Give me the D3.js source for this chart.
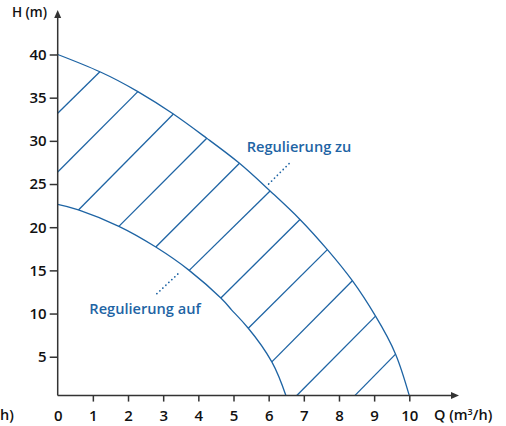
<!DOCTYPE html>
<html>
<head>
<meta charset="utf-8">
<script src="https://cdn.jsdelivr.net/npm/d3@7"></script>
<style>
  body { margin: 0; background: #fff; }
  text { font-family: "Open Sans", sans-serif; }
</style>
</head>
<body>
<div id="chart"></div>
<script>
// values
var xTicks = [0, 1, 2, 3, 4, 5, 6, 7, 8, 9, 10];
var yTicks = [5, 10, 15, 20, 25, 30, 35, 40];

// outer curve (Regulierung zu)
var outerQ = [0, 1.20, 2.28, 3.29, 4.24, 5.17, 6.04, 6.89, 7.67, 8.38, 9.04, 9.61, 10];
var outerH = [40, 38.0, 35.7, 33.1, 30.3, 27.4, 24.2, 20.9, 17.4, 13.8, 9.7, 5.3, 0.5];

// inner curve (Regulierung auf)
var innerQ = [0, 0.59, 1.74, 2.79, 3.74, 4.64, 4.95, 5.42, 6.09, 6.49];
var innerH = [22.65, 22.0, 20.1, 17.7, 15.0, 11.8, 10.4, 8.3, 4.4, 0.5];

// hatch lines between the two curves
var hatchFromQ = [0, 0, 0.59, 1.74, 2.79, 3.74, 4.64, 5.42, 6.09, 6.80, 8.45];
var hatchFromH = [33.2, 26.4, 22.0, 20.1, 17.7, 15.0, 11.8, 8.3, 4.4, 0.5, 0.5];
var hatchToQ   = [1.20, 2.28, 3.29, 4.24, 5.17, 6.04, 6.89, 7.67, 8.38, 9.04, 9.61];
var hatchToH   = [38.0, 35.7, 33.1, 30.3, 27.4, 24.2, 20.9, 17.4, 13.8, 9.7, 5.3];

var axisH = 0.5;   // the Q axis sits a little above H = 0

var blue = "#1e64a4",
    ink = "#333333";

var width = 506, height = 426;

var svg = d3.select("#chart")
  .append("svg")
    .attr("width", width)
    .attr("height", height);

var x = d3.scaleLinear().domain([0, 10]).range([57.7, 409.3]);
var y = d3.scaleLinear().domain([0, 40]).range([399.9, 54.5]);

var line = d3.line()
  .x(function(d) { return x(d[0]); })
  .y(function(d) { return y(d[1]); })
  .curve(d3.curveNatural);

// curves
svg.append("path")
  .datum(d3.zip(outerQ, outerH))
  .attr("fill", "none")
  .attr("stroke", blue)
  .attr("stroke-width", 1.3)
  .attr("d", line);

svg.append("path")
  .datum(d3.zip(innerQ, innerH))
  .attr("fill", "none")
  .attr("stroke", blue)
  .attr("stroke-width", 1.3)
  .attr("d", line);

// hatching
svg.append("g")
  .selectAll("line")
  .data(d3.range(hatchFromQ.length))
  .join("line")
    .attr("x1", function(i) { return x(hatchFromQ[i]); })
    .attr("y1", function(i) { return y(hatchFromH[i]); })
    .attr("x2", function(i) { return x(hatchToQ[i]); })
    .attr("y2", function(i) { return y(hatchToH[i]); })
    .attr("stroke", blue)
    .attr("stroke-width", 1.3);

// dotted leaders
var leaders = [
  [[6.0, 25.0], [6.64, 27.6]],
  [[2.82, 12.3], [3.5, 14.9]]
];
svg.append("g")
  .selectAll("path")
  .data(leaders)
  .join("path")
    .attr("d", d3.line().x(function(d) { return x(d[0]); }).y(function(d) { return y(d[1]); }))
    .attr("stroke", blue)
    .attr("stroke-width", 1.7)
    .attr("stroke-linecap", "round")
    .attr("stroke-dasharray", "0.1,4");

svg.append("text")
  .attr("x", x(5.375))
  .attr("y", y(28.74))
  .attr("fill", blue)
  .attr("font-size", 14.6)
  .attr("font-weight", 600)
  .text("Regulierung zu");

svg.append("text")
  .attr("x", x(0.9))
  .attr("y", y(9.95))
  .attr("fill", blue)
  .attr("font-size", 14.6)
  .attr("font-weight", 600)
  .text("Regulierung auf");

// Y axis
var yAxis = svg.append("g")
  .attr("transform", "translate(" + x(0) + ",0)")
  .call(d3.axisLeft(y).tickValues(yTicks).tickSize(8).tickPadding(3));
yAxis.select(".domain").remove();
yAxis.selectAll(".tick line").attr("stroke", ink).attr("stroke-width", 1.5);
yAxis.selectAll(".tick text")
  .attr("fill", "#111")
  .attr("font-size", 15)
  .attr("font-weight", 600)
  .style("font-family", "'Open Sans', sans-serif");

// X axis
var xAxis = svg.append("g")
  .attr("transform", "translate(0," + y(axisH) + ")")
  .call(d3.axisBottom(x).tickValues(xTicks).tickSize(6).tickPadding(9));
xAxis.select(".domain").remove();
xAxis.selectAll(".tick line").attr("stroke", ink).attr("stroke-width", 1.5)
  .filter(function(d) { return d === 0; }).remove();
xAxis.selectAll(".tick text")
  .attr("fill", "#111")
  .attr("font-size", 15)
  .attr("font-weight", 600)
  .style("font-family", "'Open Sans', sans-serif");

// axis lines with arrows
svg.append("line")
  .attr("x1", x(0)).attr("y1", y(axisH))
  .attr("x2", x(0)).attr("y2", 16)
  .attr("stroke", ink).attr("stroke-width", 1.5);
svg.append("path")
  .attr("d", "M" + x(0) + ",10 l-3.5,8 h7 z")
  .attr("fill", ink);

svg.append("line")
  .attr("x1", x(0)).attr("y1", y(axisH))
  .attr("x2", 453).attr("y2", y(axisH))
  .attr("stroke", ink).attr("stroke-width", 1.5);
svg.append("path")
  .attr("d", "M459," + y(axisH) + " l-8,-3.5 v7 z")
  .attr("fill", ink);

// axis titles
svg.append("text")
  .attr("x", 47).attr("y", 17)
  .attr("text-anchor", "end")
  .attr("fill", "#111")
  .attr("font-size", 13.5)
  .attr("font-weight", 600)
  .text("H (m)");

svg.append("text")
  .attr("x", 434).attr("y", 420)
  .attr("fill", "#111")
  .attr("font-size", 14.5)
  .attr("font-weight", 600)
  .html("Q (m<tspan font-size='9' dy='-5'>3</tspan><tspan dy='5'>/h)</tspan>");

// tail of the neighbouring panel's title
svg.append("text")
  .attr("x", 0).attr("y", 420)
  .attr("fill", "#111")
  .attr("font-size", 14.5)
  .attr("font-weight", 600)
  .text("h)");
</script>
</body>
</html>
